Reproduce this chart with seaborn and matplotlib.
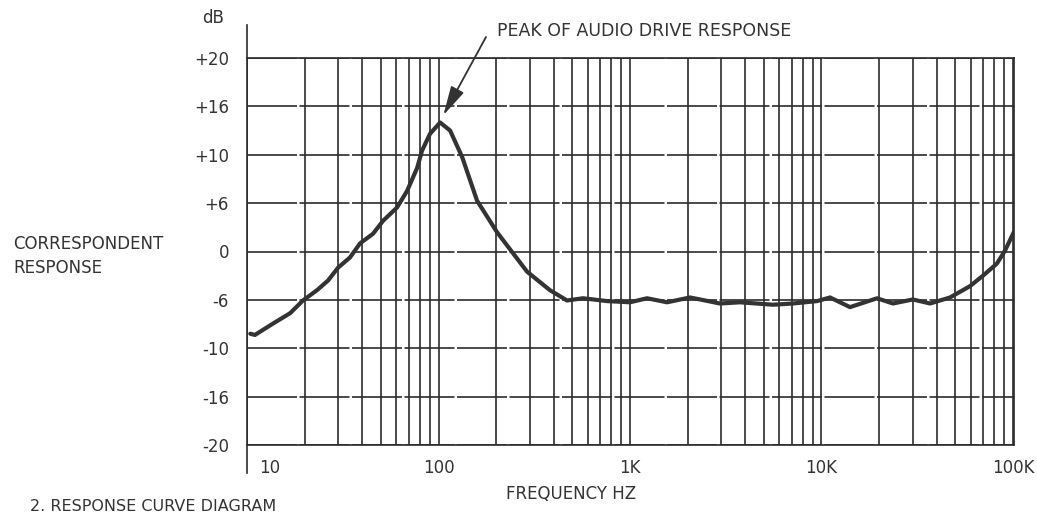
import numpy as np
import matplotlib
matplotlib.use("Agg")
import matplotlib.pyplot as plt
from matplotlib.ticker import LogLocator, NullFormatter, FixedLocator, FixedFormatter
from matplotlib.transforms import ScaledTranslation
import seaborn as sns

# ---- data ----
freq_hz = [10.4, 11.0, 13.7, 16.8, 19.6, 23.2, 26.5, 29.9, 34.5, 38.9,
           45.5, 51.3, 60.7, 68.5, 77.3, 82.0, 90.3, 102, 115, 133,
           159, 202, 290, 382, 469, 568, 759, 1000, 1227, 1561,
           2057, 2951, 3751, 5580, 7100, 9480, 11080, 14090, 19500, 23600,
           30000, 36900, 46900, 59600, 69700, 82400, 90800, 96400, 101000]
response_db = [-8.8, -8.9, -7.95, -7.1, -6.05, -4.8, -3.6, -2.0, -0.74, 1.0,
               2.2, 3.8, 5.45, 7.0, 8.9, 10.5, 12.6, 14.0, 13.0, 9.8,
               6.2, 2.4, -2.5, -4.8, -6.05, -5.8, -6.1, -6.2, -5.8, -6.2,
               -5.7, -6.3, -6.2, -6.4, -6.3, -6.1, -5.7, -6.6, -5.8, -6.3,
               -5.95, -6.3, -5.7, -4.3, -3.0, -1.5, 0.1, 1.4, 2.4]

y_tick_db = [-20, -16, -10, -6, 0, 6, 10, 16, 20]
y_tick_labels = ["-20", "-16", "-10", "-6", "0", "+6", "+10", "+16", "+20"]
x_tick_hz = [10, 100, 1000, 10000, 100000]
x_tick_labels = ["10", "100", "1K", "10K", "100K"]

peak_hz, peak_db = 106, 14.9

# ---- non-linear dB axis: tick values equally spaced ----
_db_ext = np.array([-40] + y_tick_db + [40], dtype=float)
_pos_ext = np.array([-9] + list(range(-4, 5)) + [9], dtype=float)


def fwd(v):
    return np.interp(v, _db_ext, _pos_ext)


def inv(p):
    return np.interp(p, _pos_ext, _db_ext)


sns.set_theme(style="white")
plt.rcParams["font.family"] = ["DejaVu Sans"]

W, H = 1037, 516
fig = plt.figure(figsize=(W / 100, H / 100), dpi=100)
fig.patch.set_facecolor("white")
ax = fig.add_axes([247 / W, 1 - 445 / H, (1014 - 247) / W, (445 - 58) / H])
ax.set_facecolor("white")
ax.set_xscale("log")
ax.set_yscale("function", functions=(fwd, inv))

ink = "#2b2b2b"
sns.lineplot(x=freq_hz, y=response_db, ax=ax, color="#333333", lw=3.0,
             estimator=None, sort=False)

ax.set_xlim(10, 10 ** (1 + 767 / 191.5))
ax.set_ylim(-20, 20)

ax.xaxis.set_major_locator(FixedLocator(x_tick_hz))
ax.xaxis.set_major_formatter(FixedFormatter(x_tick_labels))
ax.xaxis.set_minor_locator(LogLocator(base=10, subs=np.arange(2, 10)))
ax.xaxis.set_minor_formatter(NullFormatter())
ax.yaxis.set_major_locator(FixedLocator(y_tick_db))
ax.yaxis.set_major_formatter(FixedFormatter(y_tick_labels))

ax.grid(True, which="both", axis="x", color=ink, lw=1.2)
ax.grid(True, which="major", axis="y", color=ink, lw=1.2, ls=(0, (30, 1.5)))
ax.set_axisbelow(True)
ax.tick_params(axis="both", which="both", length=0, labelsize=12, colors="#333333")
ax.tick_params(axis="y", pad=13)
ax.tick_params(axis="x", pad=10)
for lbl in ax.get_xticklabels():
    lbl.set_color("#333333")
first = ax.get_xticklabels()[0]
first.set_horizontalalignment("left")
first.set_transform(first.get_transform() + ScaledTranslation(12 / 100, 0, fig.dpi_scale_trans))

for s in ["top", "right", "bottom", "left"]:
    ax.spines[s].set_visible(True)
    ax.spines[s].set_color(ink)
    ax.spines[s].set_linewidth(1.2)
ax.spines["left"].set_bounds(-22.3, 22.7)
ax.spines["left"].set_clip_on(False)

ax.set_xlabel("")
ax.set_ylabel("")

# ---- texts ----
txt = dict(color="#333333", fontsize=12)
fig.text(213 / W, 1 - 18 / H, "dB", ha="center", va="center", **txt)
fig.text(13 / W, 1 - 244 / H, "CORRESPONDENT", ha="left", va="center", **txt)
fig.text(13 / W, 1 - 268 / H, "RESPONSE", ha="left", va="center", **txt)
fig.text(571 / W, 1 - 494 / H, "FREQUENCY HZ", ha="center", va="center", **txt)
fig.text(30 / W, 1 - 514 / H, "2. RESPONSE CURVE DIAGRAM", ha="left", va="bottom",
         color="#333333", fontsize=11.5)
fig.text(497 / W, 1 - 31 / H, "PEAK OF AUDIO DRIVE RESPONSE", ha="left", va="center",
         color="#333333", fontsize=12.5)

ax.annotate("", xy=(peak_hz, peak_db), xycoords="data",
            xytext=(486, H - 37), textcoords="figure pixels",
            arrowprops=dict(arrowstyle="-|>,head_length=0.9,head_width=0.22",
                            color="#333333", lw=1.3, mutation_scale=20,
                            shrinkA=0, shrinkB=0),
            annotation_clip=False)

fig.savefig("out.png", dpi=100, facecolor="white")
